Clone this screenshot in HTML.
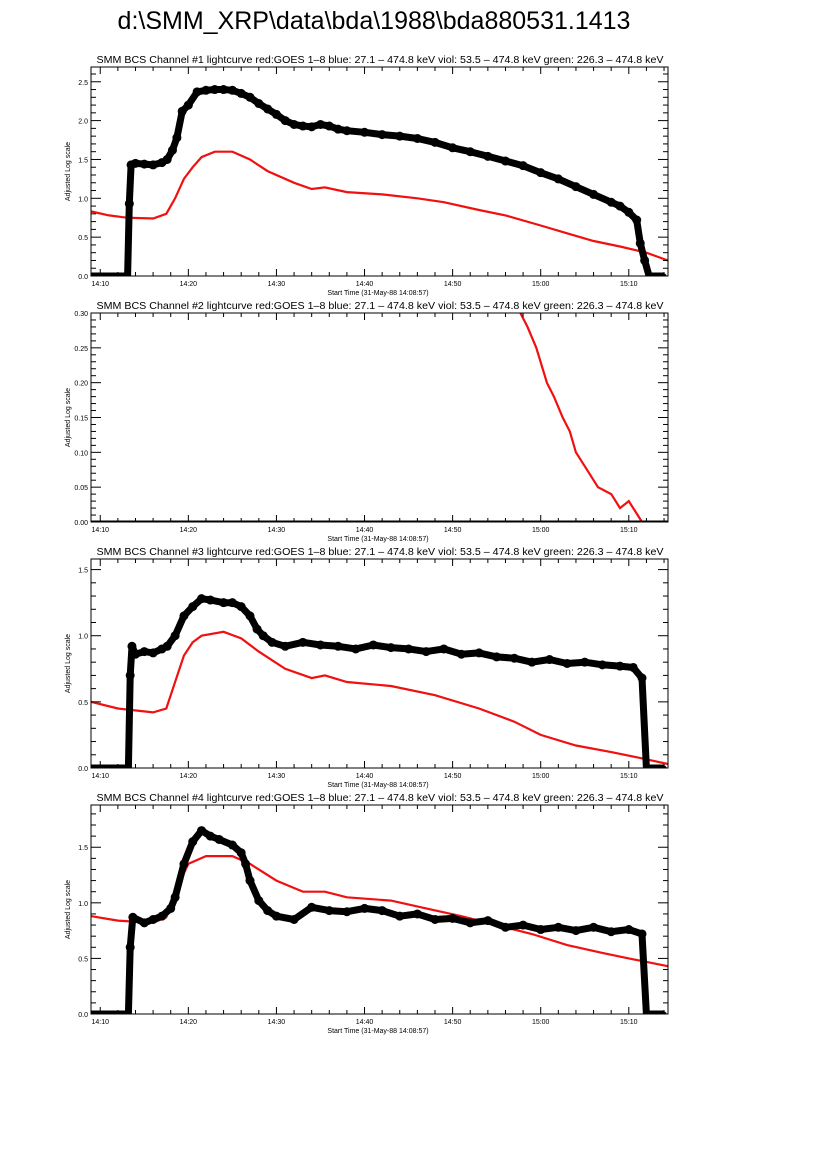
<!DOCTYPE html>
<html><head><meta charset="utf-8"><style>
body{margin:0;background:#fff;width:826px;height:1169px;overflow:hidden}
svg{display:block}
text{font-family:"Liberation Sans",sans-serif;fill:#000}
</style></head><body>
<svg id="chart" width="826" height="1169">
<text x="374" y="29" font-size="25" text-anchor="middle">d:\SMM_XRP\data\bda\1988\bda880531.1413</text>
</svg>
<script>
// times in clock minutes after 14:00
const xTickLabels=["14:10","14:20","14:30","14:40","14:50","15:00","15:10"];
const xTickMinutes=[10,20,30,40,50,60,70];
const xMin=8.95, xMax=74.45;

const p1BlackT=[9,13.1,13.3,13.5,14,15,16,17,17.6,18.2,18.7,19.3,20,21,22,23,24,25,26,27,28,29,30,31,32,33,34,35,36,37,38,40,42,44,46,48,50,52,54,56,58,60,62,64,66,68,69,70,70.9,71.3,71.8,72.3,74];
const p1BlackV=[0,0,0.93,1.43,1.45,1.44,1.43,1.46,1.5,1.62,1.78,2.12,2.2,2.37,2.39,2.40,2.40,2.39,2.35,2.3,2.22,2.15,2.08,2.0,1.95,1.93,1.92,1.95,1.93,1.89,1.87,1.85,1.82,1.8,1.77,1.72,1.65,1.6,1.54,1.48,1.42,1.33,1.25,1.15,1.05,0.95,0.9,0.82,0.72,0.42,0.2,0,0];
const p1RedT=[9,11,13,16,17.5,18.5,19.5,20.5,21.5,23,25,27,29,32,34,35.5,38,42,46,49,53,56,60,63,66,69,72,74.45];
const p1RedV=[0.83,0.78,0.75,0.74,0.8,1.0,1.25,1.4,1.53,1.6,1.6,1.5,1.35,1.2,1.12,1.14,1.08,1.05,1.0,0.95,0.85,0.78,0.65,0.55,0.45,0.38,0.3,0.2];

const p2BlackT=[9,74.45];
const p2BlackV=[0,0];
const p2RedT=[57.7,58.5,59.5,60.7,61.5,62.5,63.3,64,65,66.5,68,69,70,71,71.5];
const p2RedV=[0.30,0.28,0.25,0.2,0.18,0.15,0.13,0.1,0.08,0.05,0.04,0.02,0.03,0.01,0.0];

const p3BlackT=[9,13.2,13.4,13.6,14,15,16,17,17.6,18.5,19.5,20.5,21.5,22.5,24,25,26,27,27.8,28.5,29.5,31,33,35,37,39,41,43,45,47,49,51,53,55,57,59,61,63,65,67,69,70.5,71.5,72,72.5,74];
const p3BlackV=[0,0,0.7,0.92,0.86,0.88,0.87,0.9,0.92,1.0,1.15,1.22,1.28,1.27,1.25,1.25,1.22,1.15,1.05,1.0,0.95,0.92,0.95,0.93,0.92,0.9,0.93,0.91,0.9,0.88,0.9,0.86,0.87,0.84,0.83,0.8,0.82,0.79,0.8,0.78,0.77,0.76,0.68,0,0,0];
const p3RedT=[9,12,16,17.5,18.5,19.5,20.5,21.5,24,26,28,31,34,35.5,38,43,48,53,57,60,64,68,71,74.45];
const p3RedV=[0.5,0.45,0.42,0.45,0.65,0.85,0.95,1.0,1.03,0.98,0.88,0.75,0.68,0.7,0.65,0.62,0.55,0.45,0.35,0.25,0.17,0.12,0.08,0.03];

const p4BlackT=[9,13.2,13.4,13.7,15,16,17,18,18.5,19.5,20.5,21.5,22.5,23.5,25,26,26.5,27,28,29,30,32,34,36,38,40,42,44,46,48,50,52,54,56,58,60,62,64,66,68,70,71.5,72,72.5,74];
const p4BlackV=[0,0,0.6,0.87,0.82,0.85,0.88,0.95,1.05,1.35,1.55,1.65,1.6,1.57,1.52,1.45,1.35,1.2,1.02,0.93,0.88,0.85,0.96,0.93,0.92,0.95,0.93,0.88,0.9,0.85,0.86,0.82,0.84,0.78,0.8,0.76,0.78,0.75,0.78,0.74,0.76,0.72,0,0,0];
const p4RedT=[9,12,16,17.5,18.5,20,22,25,27,30,33,35.5,38,43,47,51,55,59,63,67,70,74.45];
const p4RedV=[0.88,0.84,0.82,0.87,1.1,1.35,1.42,1.42,1.35,1.2,1.1,1.1,1.05,1.02,0.95,0.88,0.8,0.72,0.62,0.55,0.5,0.43];

const p1YTicks=[0,0.5,1.0,1.5,2.0,2.5];
const p2YTicks=[0,0.05,0.10,0.15,0.20,0.25,0.30];
const p3YTicks=[0,0.5,1.0,1.5];
const p4YTicks=[0,0.5,1.0,1.5];

const NS="http://www.w3.org/2000/svg";
const svg=document.getElementById('chart');
const L=91,R=668,H=209;
function el(t,a,p){const e=document.createElementNS(NS,t);for(const k in a)e.setAttribute(k,a[k]);(p||svg).appendChild(e);return e;}
function panel(n,top,yMax,yTicks,dec,bT,bV,rT,rV,dots){
  const g=el('g',{});
  
  
  const bot=top+H;
  const xs=t=>L+(t-xMin)/(xMax-xMin)*(R-L);
  const ys=v=>bot-v/yMax*H;
  const clip='clip'+n;
  const cp=el('clipPath',{id:clip},g);el('rect',{x:L,y:top,width:R-L,height:H},cp);
  const tt=el('text',{x:380,y:top-4,'font-size':10,'text-anchor':'middle',textLength:567,lengthAdjust:'spacingAndGlyphs'},g);
  tt.textContent='SMM BCS Channel #'+n+' lightcurve  red:GOES 1\u20138  blue: 27.1 \u2013 474.8 keV  viol: 53.5 \u2013 474.8 keV  green: 226.3 \u2013 474.8 keV';
  
  
  const rp=rT.map((t,i)=>xs(t).toFixed(1)+','+ys(rV[i]).toFixed(1)).join(' ');
  const red=el('polyline',{points:rp,fill:'none',stroke:'#f01010','stroke-width':2.2,'clip-path':'url(#'+clip+')'},g);
  
  
  const bp=bT.map((t,i)=>xs(t).toFixed(1)+','+ys(bV[i]).toFixed(1)).join(' ');
  const blk=el('polyline',{points:bp,fill:'none',stroke:'#000','stroke-width':dots?1.5:3,'clip-path':'url(#'+clip+')'},g);
  
  
  if(dots){
    const thick=el('polyline',{points:bp,fill:'none',stroke:'#000','stroke-width':7,'stroke-linejoin':'round','clip-path':'url(#'+clip+')'},g);
    
    
    bT.forEach((t,i)=>{const c=el('circle',{cx:xs(t),cy:ys(bV[i]),r:bV[i]>0?4.5:2.5,fill:'#000','clip-path':'url(#'+clip+')'},g);
      
      });
  }
  const box=el('rect',{x:L,y:top,width:R-L,height:H,fill:'none',stroke:'#000','stroke-width':1},g);
  
  
  for(let m=10;m<=74;m+=2){const x=xs(m),len=(m%10===0)?7:4;
    el('line',{x1:x,x2:x,y1:bot,y2:bot-len,stroke:'#000'},g);el('line',{x1:x,x2:x,y1:top,y2:top+len,stroke:'#000'},g);}
  xTickLabels.forEach((lb,i)=>{const t=el('text',{x:xs(xTickMinutes[i]),y:bot+10,'font-size':7,'text-anchor':'middle'},g);t.textContent=lb;
    
    });
  const step=yTicks[1]-yTicks[0];
  for(let v=0;v<=yMax+1e-9;v+=step/5){const y=ys(v),major=Math.abs(v/step-Math.round(v/step))<1e-6,len=major?10:5;
    el('line',{x1:L,x2:L+len,y1:y,y2:y,stroke:'#000'},g);el('line',{x1:R,x2:R-len,y1:y,y2:y,stroke:'#000'},g);}
  yTicks.forEach(v=>{const t=el('text',{x:L-3,y:ys(v)+3,'font-size':7,'text-anchor':'end'},g);t.textContent=v.toFixed(dec);
    
    });
  const yl=el('text',{x:0,y:0,'font-size':7,'text-anchor':'middle',transform:'translate(70,'+(top+H/2)+') rotate(-90)'},g);yl.textContent='Adjusted Log scale';
  
  
  const xl=el('text',{x:378,y:bot+19,'font-size':7,'text-anchor':'middle'},g);xl.textContent='Start Time (31-May-88 14:08:57)';
  
  
}
panel(1,67,2.69,p1YTicks,1,p1BlackT,p1BlackV,p1RedT,p1RedV,true);
panel(2,313,0.30,p2YTicks,2,p2BlackT,p2BlackV,p2RedT,p2RedV,false);
panel(3,559,1.58,p3YTicks,1,p3BlackT,p3BlackV,p3RedT,p3RedV,true);
panel(4,805,1.88,p4YTicks,1,p4BlackT,p4BlackV,p4RedT,p4RedV,true);
</script>
</body></html>
